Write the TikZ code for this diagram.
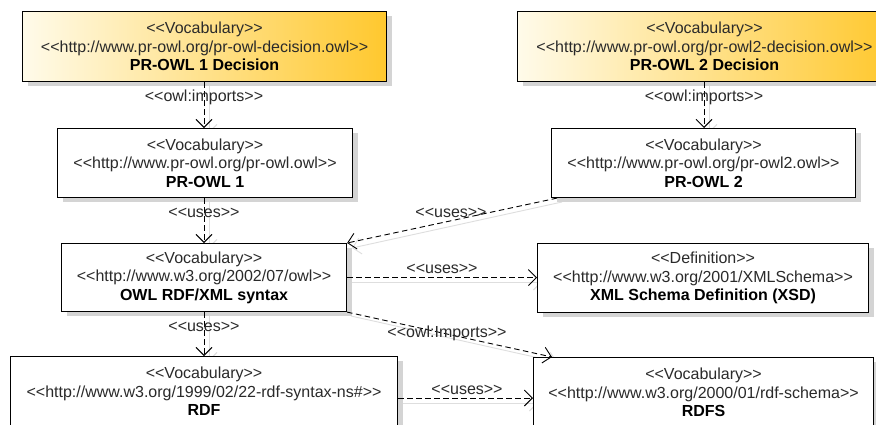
\documentclass[tikz,border=0pt]{standalone}
\usepackage{fontspec}
\setmainfont{Liberation Sans}
\usetikzlibrary{arrows.meta,calc}
\definecolor{txtgray}{HTML}{2A2A2A}
\definecolor{goldlight}{HTML}{FFFBEA}
\definecolor{golddark}{HTML}{FFC82E}
\colorlet{shadowgray}{black!17}
\colorlet{linkgray}{black!13}
\tikzset{
  x=1pt, y=-1pt,
  every node/.style={font=\fontsize{16}{18.5}\selectfont, text=txtgray},
  umlbox/.style={draw=black, line width=1.1pt, fill=white,
    rectangle, align=center, inner sep=0pt},
  goldbox/.style={umlbox, left color=goldlight, right color=golddark},
  dep/.style={draw=black, line width=0.9pt, dash pattern=on 5.5pt off 3.5pt,
    -{Straight Barb[length=8pt,width=16pt,line width=0.9pt]}},
  depshadow/.style={draw=linkgray, line width=0.9pt,
    -{Straight Barb[length=8pt,width=16pt,line width=0.9pt]}},
  deplabel/.style={font=\fontsize{16}{16}\selectfont, text=txtgray, inner sep=0pt},
}
\newcommand{\boxtext}[3]{#1\\#2\\{\color{black}\bfseries #3}}
% box placed by its edges, with a drop shadow: name, left, top, right, bottom, style, text
\newcommand{\umlnode}[7]{%
  \fill[shadowgray] (#2+6,#3+5) rectangle (#4+6,#5+5);
  \node[#6, minimum width=#4-#2, minimum height=#5-#3, anchor=north west]
    (#1) at (#2,#3) {#7};}
\begin{document}
\begin{tikzpicture}
\useasboundingbox (0,0) rectangle (876,424);
\fill[white] (0,0) rectangle (876,424);

% shadow copies of the dependency lines
\begin{scope}[shift={(5,5)}]
  \draw[depshadow] (204,81) -- (204,128);
  \draw[depshadow] (704,81) -- (704,128);
  \draw[depshadow] (204,197) -- (204,243);
  \draw[depshadow] (557,197) -- (347,243);
  \draw[depshadow] (346,277) -- (537,277);
  \draw[depshadow] (346,311) -- (552,357);
  \draw[depshadow] (204,311) -- (204,356);
  \draw[depshadow] (397,398) -- (533,398);
\end{scope}

\umlnode{prowlonedec}{22}{11}{386}{81}{goldbox}{\boxtext{<{}<Vocabulary>{}>}{<{}<http://www.pr-owl.org/pr-owl-decision.owl>{}>}{PR-OWL 1 Decision}}
\umlnode{prowltwodec}{517}{11}{891}{81}{goldbox}{\boxtext{<{}<Vocabulary>{}>}{<{}<http://www.pr-owl.org/pr-owl2-decision.owl>{}>}{PR-OWL 2 Decision}}
\umlnode{prowlone}{57}{128}{352}{197}{umlbox}{\boxtext{<{}<Vocabulary>{}>}{<{}<http://www.pr-owl.org/pr-owl.owl>{}>}{PR-OWL 1}}
\umlnode{prowltwo}{551}{128}{855}{197}{umlbox}{\boxtext{<{}<Vocabulary>{}>}{<{}<http://www.pr-owl.org/pr-owl2.owl>{}>}{PR-OWL 2}}
\umlnode{owl}{61}{243}{346}{311}{umlbox}{\boxtext{<{}<Vocabulary>{}>}{<{}<http://www.w3.org/2002/07/owl>{}>}{OWL RDF/XML syntax}}
\umlnode{xsd}{537}{243}{868}{312}{umlbox}{\boxtext{<{}<Definition>{}>}{<{}<http://www.w3.org/2001/XMLSchema>{}>}{XML Schema Definition (XSD)}}
\umlnode{rdf}{10}{356}{397}{426}{umlbox}{\boxtext{<{}<Vocabulary>{}>}{<{}<http://www.w3.org/1999/02/22-rdf-syntax-ns\#>{}>}{RDF}}
\umlnode{rdfs}{533}{357}{873}{427}{umlbox}{\boxtext{<{}<Vocabulary>{}>}{<{}<http://www.w3.org/2000/01/rdf-schema>{}>}{RDFS}}

% connector end points that are not box centres
\coordinate (leftx) at (204,0);
\coordinate (rightx) at (704,0);
\coordinate (usesfrom) at ($(prowltwo.south west)+(6,0)$);
\coordinate (importsto) at ($(rdfs.north west)+(19,0)$);
\coordinate (rdfout) at ($(rdf.north east)+(0,42)$);
\coordinate (rdfsin) at ($(rdfs.north west)+(0,41)$);

\draw[dep] (prowlonedec.south -| leftx) -- (prowlone.north -| leftx);
\draw[dep] (prowltwodec.south -| rightx) -- (prowltwo.north -| rightx);
\draw[dep] (prowlone.south -| leftx) -- (owl.north -| leftx);
\draw[dep] (usesfrom) -- (owl.north east);
\draw[dep] (owl.east) -- (owl.east -| xsd.west);
\draw[dep] (owl.south east) -- (importsto);
\draw[dep] (owl.south -| leftx) -- (rdf.north -| leftx);
\draw[dep] (rdfout) -- (rdfsin);

\node[deplabel] (l1) at (204,97) {<{}<owl:imports>{}>};
\node[deplabel] (l2) at (704,97) {<{}<owl:imports>{}>};
\node[deplabel] (l3) at (204,213) {<{}<uses>{}>};
\node[deplabel] (l4) at (451,213) {<{}<uses>{}>};
\node[deplabel] (l5) at (442,269) {<{}<uses>{}>};
\node[deplabel] (l6) at (447,333) {<{}<owl:Imports>{}>};
\node[deplabel] (l7) at (204,327) {<{}<uses>{}>};
\node[deplabel] (l8) at (467,390) {<{}<uses>{}>};
\end{tikzpicture}
\end{document}
